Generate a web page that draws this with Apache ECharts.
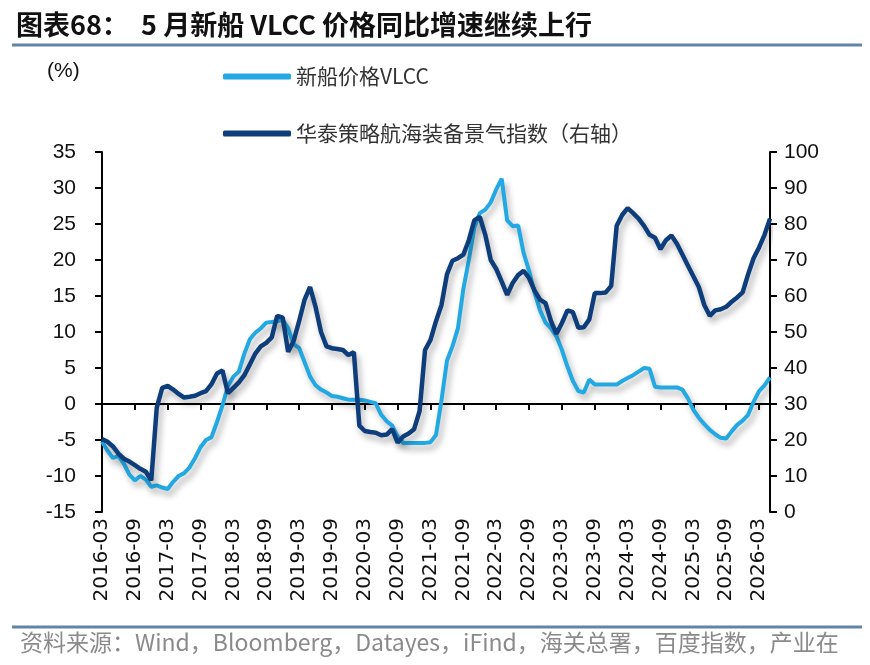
<!DOCTYPE html>
<html>
<head>
<meta charset="utf-8">
<script src="https://cdn.jsdelivr.net/npm/echarts@6/dist/echarts.min.js"></script>
<style>
  html, body { margin: 0; padding: 0; background: #fff; }
  #main { width: 870px; height: 665px; }
</style>
</head>
<body>
<div id="main"></div>
<script>
// 月份 2016-03 ~ 2026-05
const months = []
for (let y = 2016, m = 3; y < 2026 || (y === 2026 && m <= 5);) {
  months.push(y + '-' + String(m).padStart(2, '0'))
  m++
  if (m > 12) { m = 1; y++ }
}

// 新船价格VLCC 同比 (%)，左轴
const vlccYoy = [
  -5.2, -6.5, -7.5, -7.2, -8.3, -9.8, -10.6, -10, -10.5, -11.5, -11.3, -11.6,
  -11.8, -10.8, -10, -9.6, -8.8, -7.5, -6.0, -5, -4.6, -2.5, -0.2, 2.5,
  3.8, 4.5, 7, 9, 9.9, 10.5, 11.3, 11.4, 11.5, 11.7, 10.5, 8.3,
  7.8, 5.8, 3.8, 2.6, 2.0, 1.6, 1.1, 1.0, 0.8, 0.6, 0.6, 0.6,
  0.5, 0.3, 0.1, -1.5, -2.4, -3.0, -4.5, -5.4, -5.4, -5.4, -5.4, -5.4,
  -5.3, -4.3, 0.5, 6.0, 8.0, 10.5, 16, 20, 24.5, 26.5, 27, 28,
  29.8, 31.3, 25.5, 24.7, 24.8, 21, 18.5, 15.5, 13, 11.3, 10.5, 9.4,
  7.5, 5.2, 3.2, 1.8, 1.6, 3.4, 2.7, 2.7, 2.7, 2.7, 2.7, 3.2,
  3.6, 4.0, 4.5, 5.0, 4.9, 2.4, 2.3, 2.3, 2.3, 2.3, 2.0, 0.8,
  -0.8, -1.9, -2.8, -3.6, -4.2, -4.7, -4.8, -3.8, -2.9, -2.3, -1.5, 0.3,
  1.8, 2.6, 3.7
]

// 华泰策略航海装备景气指数，右轴
const marineIndex = [
  20.3, 19.5, 18.2, 16.2, 14.8, 14.0, 13.0, 12.0, 11.2, 8.8, 29, 34.5,
  35, 34, 32.8, 31.8, 32, 32.3, 33, 33.6, 35.5, 38.5, 39.3, 33,
  34.5, 36, 38, 41, 44, 46, 47, 48.5, 54.5, 54, 44.5, 47.5,
  53, 59, 62.5, 57, 50, 46, 45.5, 45.3, 45, 43.6, 44.4, 24,
  22.5, 22.2, 22, 21.3, 21.5, 23, 19.3, 21, 21.8, 23, 28, 45,
  47.8, 53, 57.5, 66, 69.8, 70.5, 71.5, 75.5, 81, 82, 77, 70,
  67.5, 64, 60.3, 63.6, 65.8, 67, 65, 61.5, 59, 58, 53, 49.5,
  52.5, 56, 55.5, 51.2, 51.3, 53.5, 60.8, 60.8, 61, 62.8, 79.5, 82.5,
  84.4, 83, 81.5, 79.5, 77, 76.2, 73, 75.5, 76.8, 74.5, 71.5, 68.5,
  65.5, 62.5, 57.5, 54.5, 56, 56.3, 57, 58.4, 59.6, 61, 66, 70.5,
  73.5, 77, 81.5
]

const seriesNames = ['新船价格VLCC', '华泰策略航海装备景气指数（右轴）']
const titleText = '图表68：  5 月新船 VLCC 价格同比增速继续上行'
const sourceText = '资料来源：Wind，Bloomberg，Datayes，iFind，海关总署，百度指数，产业在'

const LATIN = '"Liberation Sans", Arial, "Noto Sans CJK SC", sans-serif'
const WIDE = '"DejaVu Sans", "Liberation Sans", Arial, sans-serif'
const CJK = '"Noto Sans CJK SC", "Liberation Sans", sans-serif'

const myChart = echarts.init(document.getElementById('main'))

const axisBlack = { show: true, lineStyle: { color: '#000', width: 2 } }
const tickBlack = { show: true, length: 7, lineStyle: { color: '#000', width: 2 } }

const option = {
  backgroundColor: '#fff',
  animation: false,
  textStyle: { fontFamily: LATIN },
  grid: { left: 102, right: 100, top: 152, bottom: 153, containLabel: false },
  legend: {
    orient: 'vertical',
    left: 218,
    top: 61,
    itemGap: 36,
    itemWidth: 68,
    itemHeight: 6,
    icon: 'roundRect',
    data: seriesNames,
    textStyle: { fontFamily: CJK, fontSize: 21, color: '#333' }
  },
  xAxis: [
    {
      // 底部日期标签
      type: 'category',
      data: months,
      boundaryGap: false,
      position: 'bottom',
      axisLine: { show: false, onZero: false },
      axisTick: { show: false },
      axisLabel: {
        interval: 5,
        rotate: 90,
        margin: 6,
        fontSize: 20,
        color: '#111',
        fontFamily: WIDE
      },
      splitLine: { show: false }
    },
    {
      // 零轴线 + 刻度
      type: 'category',
      data: months,
      boundaryGap: false,
      position: 'bottom',
      axisLine: { show: true, onZero: true, onZeroAxisIndex: 0, lineStyle: { color: '#000', width: 2 } },
      axisTick: { show: true, interval: 5, length: 6, lineStyle: { color: '#000', width: 2 } },
      axisLabel: { show: false },
      splitLine: { show: false }
    }
  ],
  yAxis: [
    {
      type: 'value',
      min: -15,
      max: 35,
      interval: 5,
      position: 'left',
      axisLine: axisBlack,
      axisTick: tickBlack,
      axisLabel: { fontSize: 21, color: '#111', margin: 26, fontFamily: LATIN },
      splitLine: { show: false }
    },
    {
      type: 'value',
      min: 0,
      max: 100,
      interval: 10,
      position: 'right',
      axisLine: axisBlack,
      axisTick: tickBlack,
      axisLabel: { fontSize: 21, color: '#111', margin: 14, fontFamily: LATIN },
      splitLine: { show: false }
    }
  ],
  series: [
    {
      name: seriesNames[0],
      type: 'line',
      xAxisIndex: 0,
      yAxisIndex: 0,
      data: vlccYoy,
      symbol: 'none',
      itemStyle: { color: '#22a8e3' },
      lineStyle: {
        color: '#22a8e3',
        width: 4,
        shadowColor: 'rgba(0,0,0,0.3)',
        shadowBlur: 6,
        shadowOffsetX: 3,
        shadowOffsetY: 5
      }
    },
    {
      name: seriesNames[1],
      type: 'line',
      xAxisIndex: 0,
      yAxisIndex: 1,
      data: marineIndex,
      symbol: 'none',
      itemStyle: { color: '#0e3d7b' },
      lineStyle: {
        color: '#0e3d7b',
        width: 4.5,
        shadowColor: 'rgba(0,0,0,0.3)',
        shadowBlur: 6,
        shadowOffsetX: 3,
        shadowOffsetY: 5
      }
    }
  ],
  graphic: [
    {
      type: 'text',
      left: 16,
      top: 11,
      style: { text: titleText, fontFamily: CJK, fontWeight: 'bold', fontSize: 27, fill: '#111' }
    },
    {
      type: 'line',
      shape: { x1: 12, y1: 45, x2: 862, y2: 45 },
      style: { stroke: '#6283aa', lineWidth: 3 }
    },
    {
      type: 'text',
      left: 47,
      top: 61,
      style: { text: '(%)', fontFamily: LATIN, fontSize: 21, fill: '#111' }
    },
    {
      type: 'line',
      shape: { x1: 12, y1: 627, x2: 862, y2: 627 },
      style: { stroke: '#6283aa', lineWidth: 3 }
    },
    {
      type: 'text',
      left: 20,
      top: 631,
      style: { text: sourceText, fontFamily: CJK, fontSize: 23, fill: '#8a8a8a' }
    }
  ]
}

myChart.setOption(option)
</script>
</body>
</html>
